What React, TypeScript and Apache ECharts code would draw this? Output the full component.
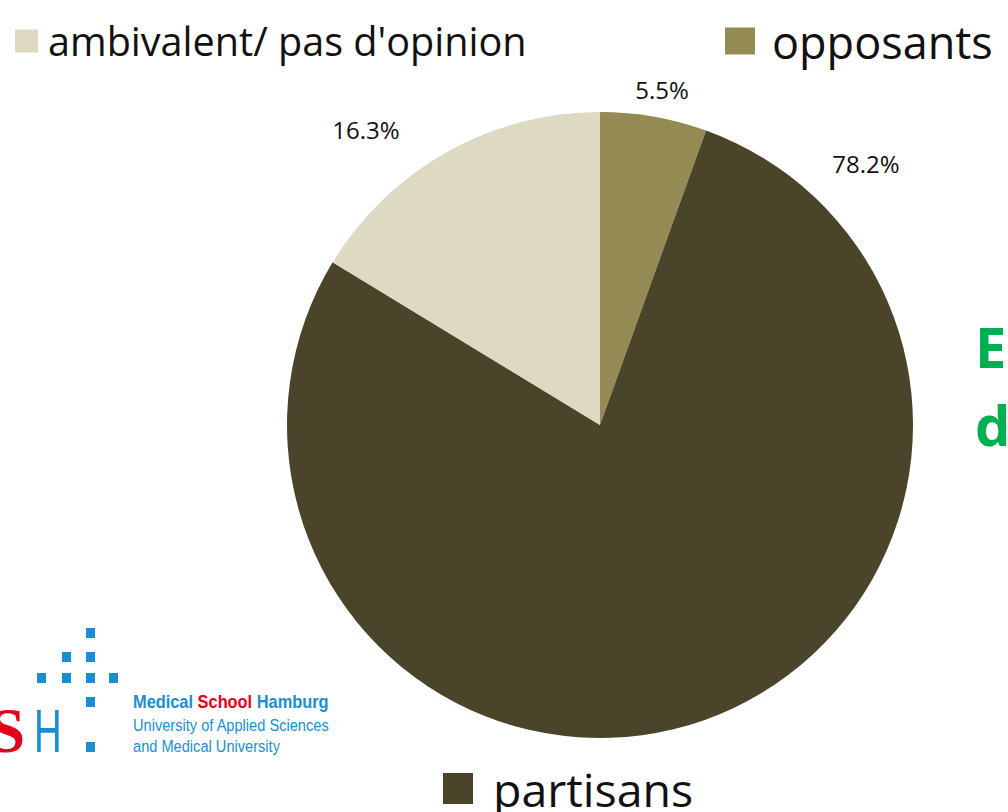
import React, { useEffect, useRef } from "react";
import * as echarts from "echarts";

const categories = ["opposants", "partisans", "ambivalent/ pas d'opinion"];
const values = [5.5, 78.2, 16.3];
const colors = ["#948a54", "#4a452a", "#ddd9c3"];

// label anchor positions (px) for each slice, Excel "best fit" style
const labelPos: [number, number][] = [
  [662, 89],
  [866, 163],
  [366, 129],
];

const logoSquares: [number, number][] = [
  [86, 628],
  [62, 652], [86, 652],
  [37, 673], [62, 673], [86, 673], [109, 673],
  [86, 697],
  [86, 742],
];

const BLUE = "#1a8fd0";
const RED = "#e2001a";

export default function App() {
  const ref = useRef<HTMLDivElement>(null);
  useEffect(() => {
    if (!ref.current) return;
    const chart = echarts.init(ref.current, undefined, { renderer: "svg" });
    const font = "'Open Sans', sans-serif";
    const logoFont = "'Liberation Sans', sans-serif";
    const legendBase = {
      orient: "horizontal" as const,
      padding: 0,
      icon: "rect",
      selectedMode: false,
    };
    chart.setOption({
      animation: false,
      backgroundColor: "#ffffff",
      legend: [
        {
          ...legendBase,
          data: [categories[2]],
          left: 15,
          top: 21,
          itemWidth: 23,
          itemHeight: 23,
          textStyle: { fontSize: 39.6, fontFamily: font, color: "#111", lineHeight: 40, padding: [0, 0, 0, 5] },
        },
        {
          ...legendBase,
          data: [categories[0]],
          left: 725,
          top: 18,
          itemWidth: 30,
          itemHeight: 27,
          textStyle: { fontSize: 45, fontFamily: font, color: "#111", lineHeight: 46, padding: [0, 0, 0, 12] },
        },
        {
          ...legendBase,
          data: [categories[1]],
          left: 443,
          top: 765,
          itemWidth: 30,
          itemHeight: 31,
          textStyle: { fontSize: 46.5, fontFamily: font, color: "#111", lineHeight: 44, padding: [0, 0, 0, 15] },
        },
      ],
      series: [
        {
          type: "pie",
          center: [600, 425],
          radius: 313,
          startAngle: 90,
          clockwise: true,
          data: categories.map((c, i) => ({
            name: c,
            value: values[i],
            itemStyle: { color: colors[i] },
          })),
          label: {
            show: true,
            position: "outside",
            formatter: (p: any) => p.value.toFixed(1) + "%",
            fontSize: 24,
            fontFamily: font,
            color: "#111",
          },
          labelLine: { show: false },
          labelLayout: (p: any) => ({
            x: labelPos[p.dataIndex][0],
            y: labelPos[p.dataIndex][1],
            align: "center",
            verticalAlign: "middle",
          }),
          emphasis: { disabled: true },
        },
      ],
      graphic: [
        {
          type: "text",
          left: 975,
          top: 318,
          style: { text: "E", fontSize: 56, fontWeight: "bold", fontFamily: font, fill: "#00b050" },
        },
        {
          type: "text",
          left: 975,
          top: 396,
          style: { text: "d", fontSize: 56, fontWeight: "bold", fontFamily: font, fill: "#00b050" },
        },
        ...logoSquares.map(([x, y]) => ({
          type: "rect",
          shape: { x, y, width: 9, height: 10 },
          style: { fill: BLUE },
        })),
        {
          type: "text",
          x: 25,
          y: 730,
          style: {
            text: "S",
            fontSize: 64,
            fontWeight: "bold",
            fontFamily: "'Liberation Serif', serif",
            fill: RED,
            align: "right",
            verticalAlign: "middle",
          },
        },
        {
          type: "text",
          x: 34,
          y: 730,
          scaleX: 0.62,
          style: {
            text: "H",
            fontSize: 62,
            fontFamily: logoFont,
            fill: BLUE,
            align: "left",
            verticalAlign: "middle",
          },
        },
        {
          type: "text",
          x: 133,
          y: 702,
          scaleX: 0.91,
          style: {
            text: "{b|Medical }{r|School}{b| Hamburg}",
            rich: {
              b: { fontSize: 18, fontWeight: "bold", fontFamily: logoFont, fill: BLUE, color: BLUE },
              r: { fontSize: 18, fontWeight: "bold", fontFamily: logoFont, fill: RED, color: RED },
            },
            verticalAlign: "middle",
          },
        },
        {
          type: "text",
          x: 133,
          y: 725,
          scaleX: 0.86,
          style: {
            text: "University of Applied Sciences",
            fontSize: 17,
            fontFamily: logoFont,
            fill: BLUE,
            verticalAlign: "middle",
          },
        },
        {
          type: "text",
          x: 133,
          y: 746,
          scaleX: 0.86,
          style: {
            text: "and Medical University",
            fontSize: 17,
            fontFamily: logoFont,
            fill: BLUE,
            verticalAlign: "middle",
          },
        },
      ],
    });
    return () => chart.dispose();
  }, []);
  return (
    <div
      ref={ref}
      style={{ position: "absolute", left: 0, top: 0, width: 1008, height: 812 }}
    />
  );
}
